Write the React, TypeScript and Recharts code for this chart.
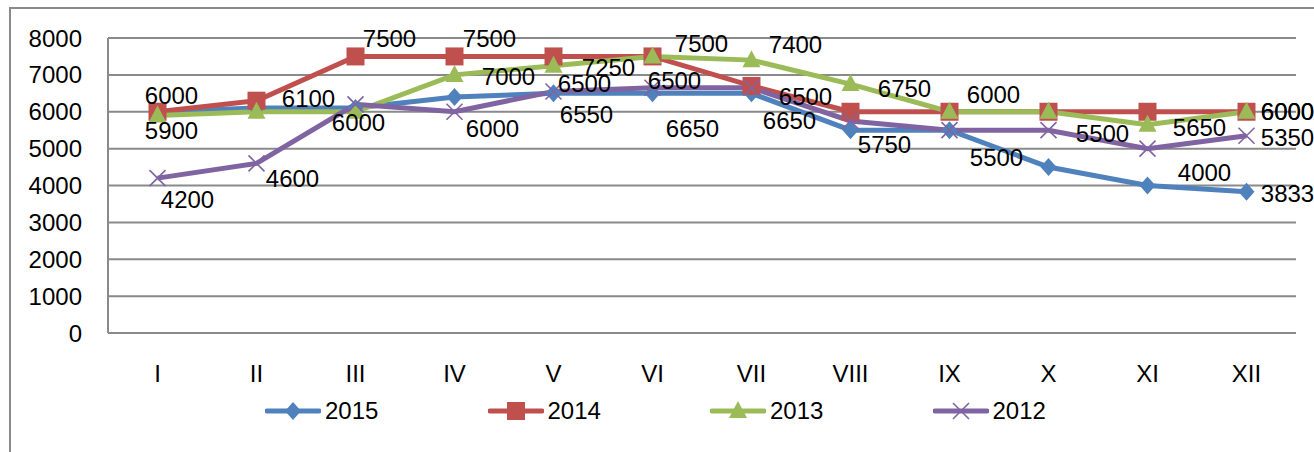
import React from 'react';
import { LineChart, Line, XAxis, YAxis, CartesianGrid } from 'recharts';

const months = ['I', 'II', 'III', 'IV', 'V', 'VI', 'VII', 'VIII', 'IX', 'X', 'XI', 'XII'];
const s2015 = [6000, 6100, 6100, 6400, 6500, 6500, 6500, 5500, 5500, 4500, 4000, 3833];
const s2014 = [6000, 6300, 7500, 7500, 7500, 7500, 6700, 6000, 6000, 6000, 6000, 6000];
const s2013 = [5900, 6000, 6000, 7000, 7250, 7500, 7400, 6750, 6000, 6000, 5650, 6000];
const s2012 = [4200, 4600, 6200, 6000, 6550, 6650, 6650, 5750, 5500, 5500, 5000, 5350];
const yTicks = [0, 1000, 2000, 3000, 4000, 5000, 6000, 7000, 8000];

const data = months.map((m, i) => ({
  month: m,
  y2015: s2015[i],
  y2014: s2014[i],
  y2013: s2013[i],
  y2012: s2012[i],
}));

const FONT = '"Liberation Sans", Arial, sans-serif';
const GRID = '#8a8a8a';

// where the data labels sit relative to their point (index -> [dx, dy])
const labelOffsets: Record<string, Record<number, [number, number]>> = {
  y2015: { 1: [52, -10], 4: [31, -10], 5: [22, -13], 6: [54, 3], 8: [47, 27], 10: [57, -13], 11: [41, 2] },
  y2014: { 0: [14, -16], 2: [34, -18], 3: [35, -18], 11: [41, 0] },
  y2013: { 0: [14, 15], 2: [3, 11], 3: [54, 2], 4: [55, 2], 5: [49, -13], 6: [44, -16], 7: [54, 4], 8: [44, -17], 10: [52, 3], 11: [41, 0] },
  y2012: { 0: [30, 21], 1: [36, 15], 3: [38, 17], 4: [33, 23], 5: [40, 41], 6: [38, 33], 7: [34, 24], 9: [54, 3], 11: [41, 2] },
};

type Shape = 'diamond' | 'square' | 'triangle' | 'cross';

const series: { key: string; name: string; color: string; shape: Shape }[] = [
  { key: 'y2015', name: '2015', color: '#4F81BD', shape: 'diamond' },
  { key: 'y2014', name: '2014', color: '#C0504D', shape: 'square' },
  { key: 'y2013', name: '2013', color: '#9BBB59', shape: 'triangle' },
  { key: 'y2012', name: '2012', color: '#8064A2', shape: 'cross' },
];

const Marker = ({ shape, color, cx, cy }: { shape: Shape; color: string; cx: number; cy: number }) => {
  if (shape === 'diamond') {
    return <path d={`M${cx},${cy - 9} L${cx + 8},${cy} L${cx},${cy + 9} L${cx - 8},${cy} Z`} fill={color} />;
  }
  if (shape === 'square') {
    return <rect x={cx - 9} y={cy - 9} width={18} height={18} fill={color} />;
  }
  if (shape === 'triangle') {
    return <path d={`M${cx},${cy - 10} L${cx + 9},${cy + 7} L${cx - 9},${cy + 7} Z`} fill={color} />;
  }
  return (
    <path
      d={`M${cx - 8},${cy - 8} L${cx + 8},${cy + 8} M${cx + 8},${cy - 8} L${cx - 8},${cy + 8}`}
      stroke={color}
      strokeWidth={1.6}
      fill="none"
    />
  );
};

const makeDot = (shape: Shape, color: string) => (props: any) => {
  const { cx, cy, index } = props;
  if (cx == null || cy == null) return <g key={`d-${index}`} />;
  return (
    <g key={`d-${shape}-${index}`}>
      <Marker shape={shape} color={color} cx={cx} cy={cy} />
    </g>
  );
};

const makeLabelDot = (key: string) => (props: any) => {
  const { cx, cy, index, payload } = props;
  const off = labelOffsets[key][index];
  if (!off || cx == null || cy == null) return <g key={`l-${key}-${index}`} />;
  return (
    <text
      key={`l-${key}-${index}`}
      x={cx + off[0]}
      y={cy + off[1]}
      textAnchor="middle"
      dominantBaseline="central"
      fontSize={24}
      fontFamily={FONT}
      fill="#000"
    >
      {payload[key]}
    </text>
  );
};

const LegendBox = () => (
  <div
    style={{
      position: 'absolute',
      top: 396,
      left: 265,
      display: 'flex',
      fontFamily: FONT,
      fontSize: 24,
      color: '#000',
    }}
  >
    {series.map((s) => (
      <div key={s.key} style={{ width: 222.5, display: 'flex', alignItems: 'center' }}>
        <svg width={56} height={30}>
          <line x1={2} y1={15} x2={54} y2={15} stroke={s.color} strokeWidth={5} strokeLinecap="round" />
          <Marker shape={s.shape} color={s.color} cx={28} cy={15} />
        </svg>
        <span style={{ marginLeft: 4, lineHeight: '30px' }}>{s.name}</span>
      </div>
    ))}
  </div>
);

export default function App() {
  return (
    <div style={{ position: 'absolute', left: 0, top: 0, width: 1314, height: 452, overflow: 'hidden', background: '#fff' }}>
      <div
        style={{
          position: 'absolute',
          left: 9,
          top: 7,
          width: 1400,
          height: 500,
          borderTop: `2px solid ${GRID}`,
          borderLeft: `2px solid ${GRID}`,
        }}
      />
      <div style={{ position: 'absolute', left: 0, top: 0 }}>
        <LineChart width={1314} height={452} data={data} margin={{ top: 38, right: 18, left: 0, bottom: 0 }}>
          <CartesianGrid vertical={false} stroke={GRID} strokeWidth={2} />
          <XAxis
            dataKey="month"
            height={119}
            padding={{ left: 49.5, right: 49.5 }}
            axisLine={{ stroke: GRID, strokeWidth: 2 }}
            tickLine={false}
            tickSize={0}
            tickMargin={32}
            interval={0}
            tick={{ fill: '#000', fontSize: 24, fontFamily: FONT }}
          />
          <YAxis
            width={108}
            domain={[0, 8000]}
            ticks={yTicks}
            interval={0}
            axisLine={{ stroke: GRID, strokeWidth: 2 }}
            tickLine={false}
            tickSize={0}
            tickMargin={26}
            tick={{ fill: '#000', fontSize: 24, fontFamily: FONT }}
          />
          {series.map((s) => (
            <Line
              key={s.key}
              type="linear"
              dataKey={s.key}
              name={s.name}
              stroke={s.color}
              strokeWidth={5}
              dot={makeDot(s.shape, s.color)}
              activeDot={false}
              isAnimationActive={false}
            />
          ))}
          {series.map((s) => (
            <Line
              key={`lab-${s.key}`}
              type="linear"
              dataKey={s.key}
              stroke="none"
              legendType="none"
              dot={makeLabelDot(s.key)}
              activeDot={false}
              isAnimationActive={false}
            />
          ))}
        </LineChart>
      </div>
      <LegendBox />
    </div>
  );
}
